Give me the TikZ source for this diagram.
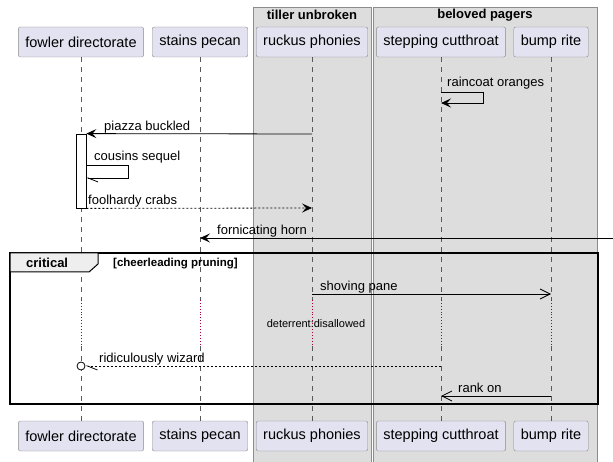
\documentclass[tikz,border=0pt]{standalone}
\usepackage{xcolor}
\usepackage{fontspec}
\setmainfont{Liberation Sans}
\usetikzlibrary{arrows.meta}

\definecolor{partfill}{HTML}{E2E2F0}
\definecolor{partline}{HTML}{8A8A8A}
\definecolor{boxfill}{HTML}{DDDDDD}
\definecolor{boxline}{HTML}{8C8C8C}
\definecolor{tabfill}{HTML}{EEEEEE}
\definecolor{delayred}{HTML}{A80036}

\tikzset{
    part/.style={draw=partline, fill=partfill, rounded corners=2pt, minimum height=30pt,
        inner xsep=7pt, font=\fontsize{14.5}{16}\selectfont},
    grp/.style={draw=boxline, fill=boxfill},
    life/.style={draw=black!65, dash pattern=on 5pt off 5pt, line width=0.6pt},
    msg/.style={line width=0.8pt},
    ret/.style={line width=0.8pt, dash pattern=on 2pt off 2pt},
    filled/.style={-{Stealth[length=10pt, width=9pt, inset=4pt]}},
    thin/.style={-{Straight Barb[length=10pt, width=10pt]}},
    half/.style={-{Straight Barb[length=10pt, width=8pt, left]}},
    lbl/.style={font=\fontsize{13}{15}\selectfont, inner sep=0pt, anchor=base west, yshift=-1.5pt},
    delay/.style={draw=delayred, dotted, line width=0.9pt},
}

\begin{document}
\begin{tikzpicture}[x=1pt, y=-1pt]
    \useasboundingbox (0,0) rectangle (613,462);
    % groups
    \draw[grp] (253,7) rectangle (371,462);
    \draw[grp] (373,7) rectangle (597,462);
    \node[font=\bfseries\fontsize{13}{15}\selectfont] (tiller) at (312,15) {tiller unbroken};
    \node[font=\bfseries\fontsize{13}{15}\selectfont] (beloved) at (485,15) {beloved pagers};

    % participants
    \node[part] (fdT) at (81,42) {fowler directorate};
    \node[part] (spT) at (200,42) {stains pecan};
    \node[part] (rpT) at (312,42) {ruckus phonies};
    \node[part] (scT) at (441,42) {stepping cutthroat};
    \node[part] (brT) at (551,42) {bump rite};
    \node[part] (fdB) at (81,436) {fowler directorate};
    \node[part] (spB) at (200,436) {stains pecan};
    \node[part] (rpB) at (312,436) {ruckus phonies};
    \node[part] (scB) at (441,436) {stepping cutthroat};
    \node[part] (brB) at (551,436) {bump rite};

    % lifelines, broken by the delay
    \foreach \p/\x in {fd/81, sp/200, rp/312, sc/441, br/551} {
        \coordinate (\p D1) at (\x,300);
        \coordinate (\p D2) at (\x,346);
        \draw[life] (\p T) -- (\p D1);
        \draw[life] (\p D2) -- (\p B);
        \draw[delay] (\p D1) -- (\p D2);
    }
    \node[font=\fontsize{11}{13}\selectfont] (deterrent) at (316,324) {deterrent:disallowed};

    % raincoat oranges
    \coordinate (sc1) at (441,92);
    \coordinate (sc2) at (441,103);
    \draw[msg, filled] (sc1) -| (483,103) -- (sc2);
    \node[lbl] (raincoat) at (447,85) {raincoat oranges};

    % activation
    \node[draw, fill=white, line width=0.8pt, minimum width=10pt, minimum height=74pt, inner sep=0pt] (act) at (81,171) {};

    % piazza buckled
    \coordinate (rp1) at (312,134);
    \draw[msg, filled] (rp1) -- (act.north east);
    \node[lbl] (piazza) at (104,129) {piazza buckled};

    % cousins sequel
    \coordinate (ac1) at (86,165);
    \coordinate (ac2) at (86,178);
    \draw[msg, half] (ac1) -| (128,178) -- (ac2);
    \node[lbl] (cousins) at (94,159) {cousins sequel};

    % foolhardy crabs
    \coordinate (rp2) at (312,208);
    \draw[ret, filled] (act.south east) -- (rp2);
    \node[lbl] (foolhardy) at (88,203) {foolhardy crabs};

    % fornicating horn
    \coordinate (edge) at (613,238);
    \coordinate (sp1) at (200,238);
    \draw[msg, filled] (edge) -- (sp1);
    \node[lbl] (fornicating) at (217,233) {fornicating horn};

    % critical frame
    \draw[line width=1.5pt] (10,253) rectangle (598,404);
    \draw[line width=1pt, fill=tabfill] (10,253) -- (98,253) -- (98,264) -- (89,272) -- (10,272) -- cycle;
    \node[font=\bfseries\fontsize{13}{15}\selectfont, inner sep=0pt, anchor=base west] (critical) at (26,268) {critical};
    \node[font=\bfseries\fontsize{11.5}{13}\selectfont, inner sep=0pt, anchor=base west] (guard) at (113,267) {[cheerleading pruning]};

    % shoving pane
    \coordinate (rp3) at (312,294);
    \coordinate (br1) at (551,294);
    \draw[msg, thin] (rp3) -- (br1);
    \node[lbl] (shoving) at (320,289) {shoving pane};

    % ridiculously wizard
    \coordinate (sc3) at (441,366);
    \node[circle, draw, line width=0.8pt, fill=white, minimum size=8pt, inner sep=0pt] (fdo) at (81,366) {};
    \draw[ret, half] (sc3) -- (fdo.east);
    \node[lbl] (ridiculously) at (99,361) {ridiculously wizard};

    % rank on
    \coordinate (br2) at (551,396);
    \coordinate (sc4) at (441,396);
    \draw[msg, thin] (br2) -- (sc4);
    \node[lbl] (rank) at (458,391) {rank on};
\end{tikzpicture}
\end{document}
